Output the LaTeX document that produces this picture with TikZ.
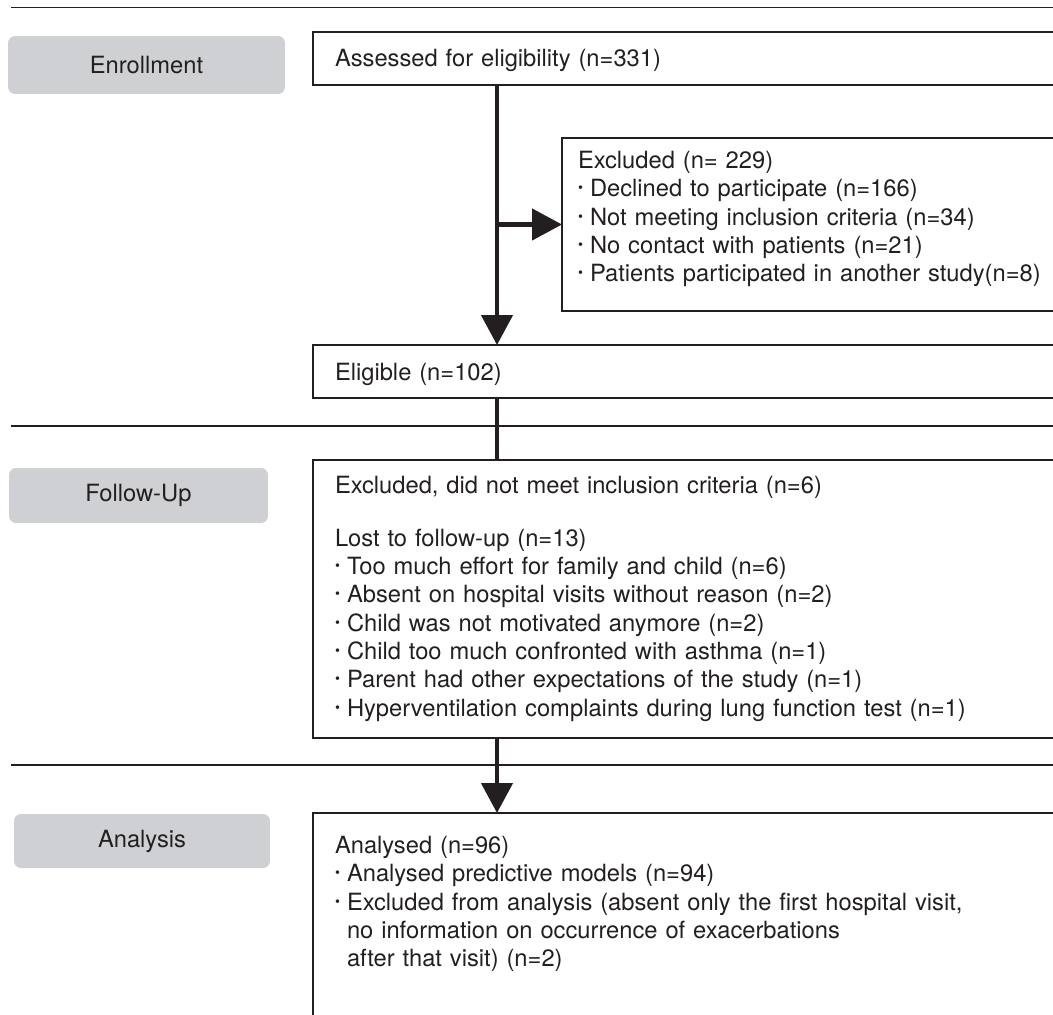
\documentclass[tikz,border=0pt]{standalone}
\usepackage{fontspec}
\setmainfont{TeX Gyre Heros}
\usetikzlibrary{arrows.meta}

\definecolor{phasegray}{RGB}{207,208,212}
\definecolor{ink}{RGB}{35,31,32}
\newcommand{\dotitem}{\makebox[0.24cm][l]{\raisebox{0.08cm}{\fontsize{8pt}{8pt}\selectfont\textbullet}}}
\newcommand{\dotindent}{\hspace*{0.24cm}}

\begin{document}
\begin{tikzpicture}[x=0.02cm, y=-0.02cm,
    font=\fontsize{13.5pt}{16.1pt}\selectfont, text=ink,
    rule/.style={draw=ink, line width=0.04cm},
    phase/.style={fill=phasegray, rounded corners=0.14cm, inner sep=0pt},
    flowbox/.style={draw=ink, line width=0.04cm, anchor=north west,
      align=left, inner ysep=0pt, outer sep=0pt},
    link/.style={draw=ink, line width=0.09cm},
    >={Triangle[length=0.6cm, width=0.62cm]}]
  \def\spinex{497}   % x of the main flow line

  \useasboundingbox (0,0) rectangle (1053,1014);
  \clip (0,0) rectangle (1053,1014);

  % ----- section rules -----
  \draw[rule] (11,7.5) -- (1053,7.5);
  \draw[rule] (11,426) -- (1053,426);
  \draw[rule] (11,765) -- (1053,765);

  % ----- phase labels -----
  \node[phase, minimum width=5.54cm, minimum height=1.16cm] (enrol) at (146.5,65) {Enrollment};
  \node[phase, minimum width=5.18cm, minimum height=1.10cm] (fup) at (138.5,495.5) {Follow-Up};
  \node[phase, minimum width=5.12cm, minimum height=1.08cm] (anal) at (142,841) {Analysis};

  % ----- flow boxes -----
  \node[flowbox, inner xsep=0.44cm, text width=16cm, text height=0.70cm, text depth=0.36cm]
    (assess) at (313,32) {Assessed for eligibility (n=331)};
  \node[flowbox, inner xsep=0.32cm, text width=10.4cm, text height=0.61cm, text depth=2.85cm]
    (excl) at (562,138) {Excluded (n= 229)\\
      \dotitem Declined to participate (n=166)\\
      \dotitem Not meeting inclusion criteria (n=34)\\
      \dotitem No contact with patients (n=21)\\
      \dotitem Patients participated in another study(n=8)};
  \node[flowbox, inner xsep=0.44cm, text width=16cm, text height=0.71cm, text depth=0.35cm]
    (elig) at (313,345) {Eligible (n=102)};
  \node[flowbox, inner xsep=0.44cm, text width=16cm, text height=0.67cm, text depth=4.89cm]
    (follow) at (313,460) {Excluded, did not meet inclusion criteria (n=6)\\[0.49cm]
      Lost to follow-up (n=13)\\
      \dotitem Too much effort for family and child (n=6)\\
      \dotitem Absent on hospital visits without reason (n=2)\\
      \dotitem Child was not motivated anymore (n=2)\\
      \dotitem Child too much confronted with asthma (n=1)\\
      \dotitem Parent had other expectations of the study (n=1)\\
      \dotitem Hyperventilation complaints during lung function test (n=1)};
  \node[flowbox, inner xsep=0.44cm, text width=16cm, text height=0.81cm, text depth=3.6cm]
    (analysis) at (313,813) {Analysed (n=96)\\
      \dotitem Analysed predictive models (n=94)\\
      \dotitem Excluded from analysis (absent only the first hospital visit,\\
      \dotindent no information on occurrence of exacerbations\\
      \dotindent after that visit) (n=2)};

  % ----- connectors -----
  \coordinate (spine) at (\spinex,0);
  \draw[link, ->] (assess.south -| spine) -- (elig.north -| spine);
  \draw[link, ->] (spine |- excl.west) -- (excl.west);
  \draw[link] (elig.south -| spine) -- (follow.north -| spine);
  \draw[link, ->] (follow.south -| spine) -- (analysis.north -| spine);
\end{tikzpicture}
\end{document}
